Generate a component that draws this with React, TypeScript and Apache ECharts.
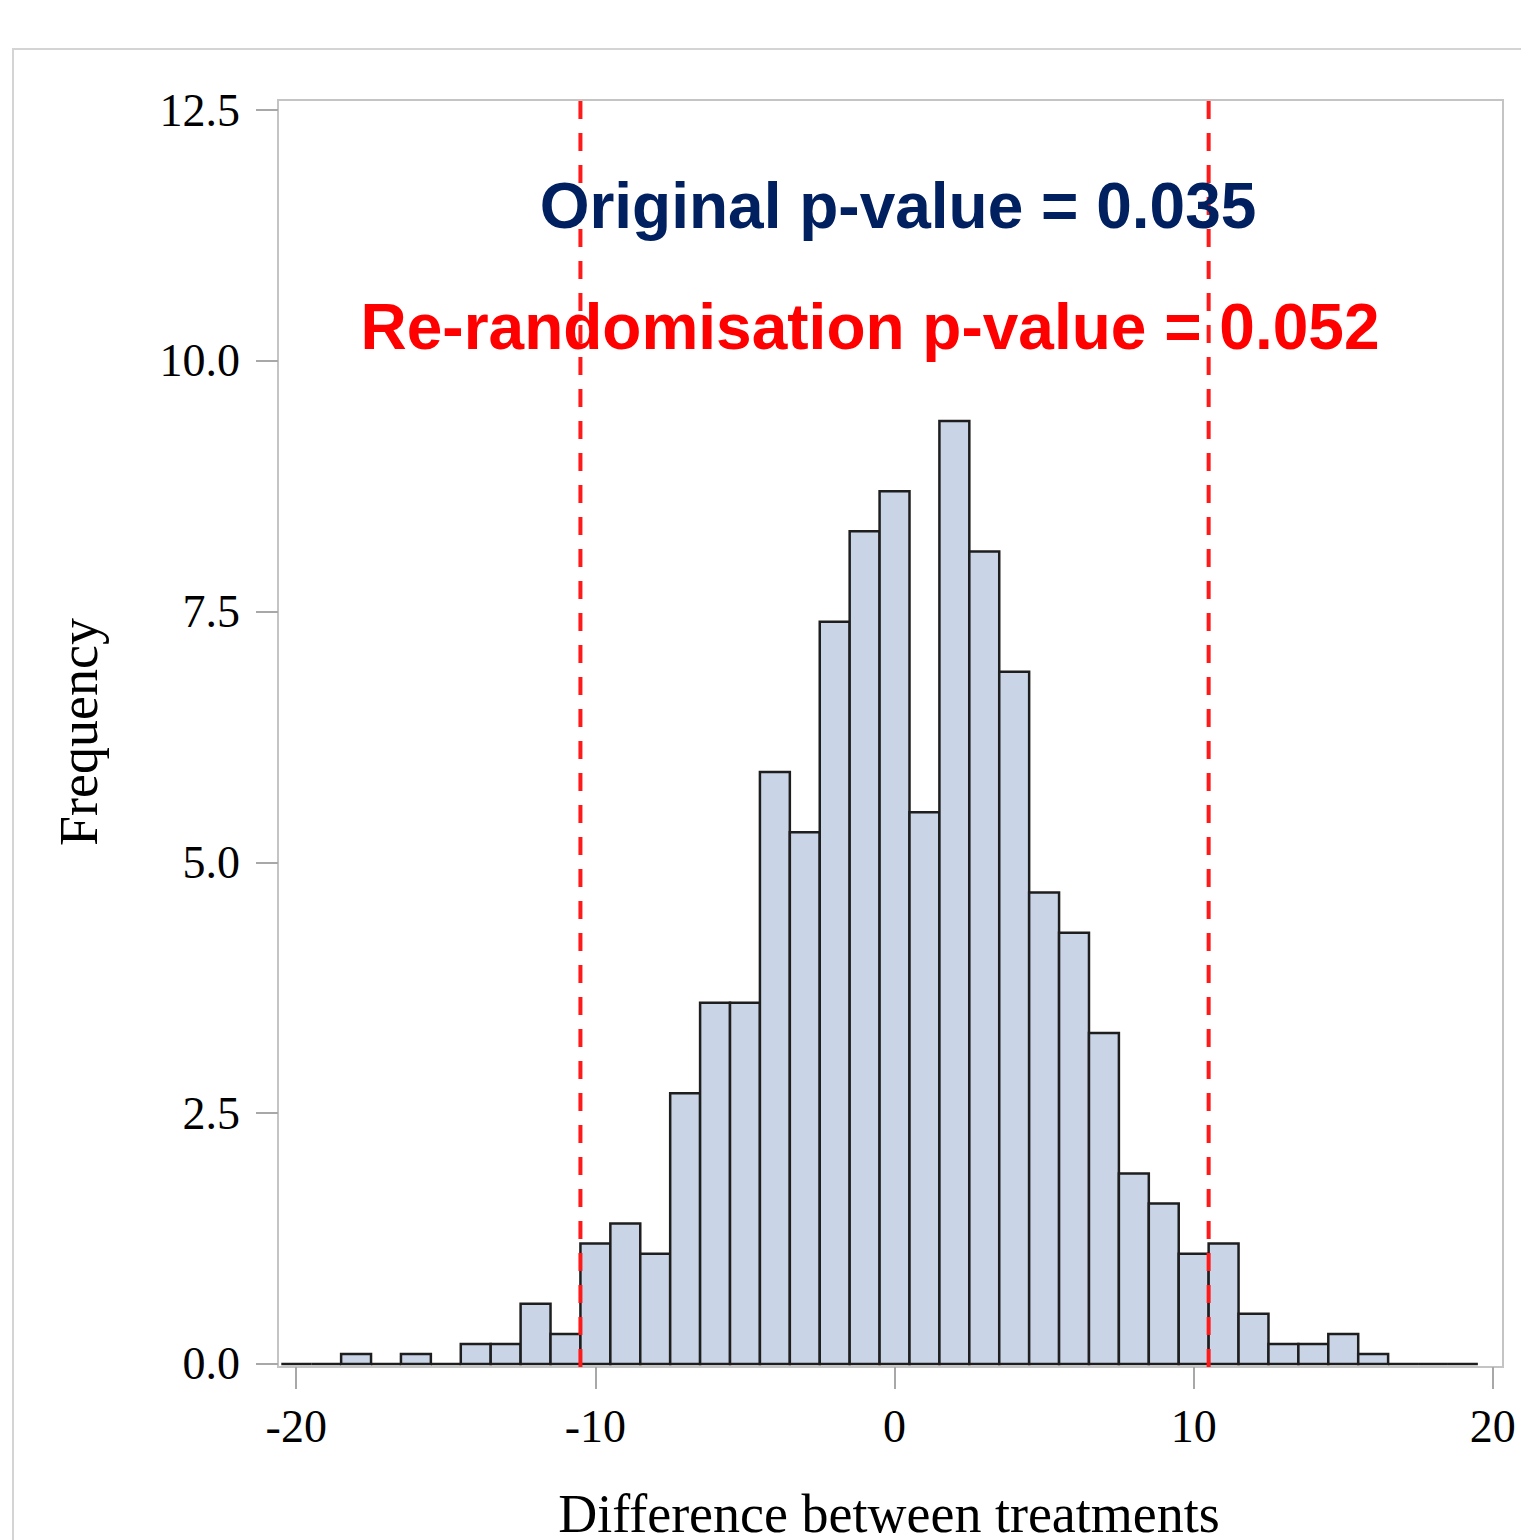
import React, { useEffect, useRef } from "react";
import * as echarts from "echarts";

const binCenters = [-20, -19, -18, -17, -16, -15, -14, -13, -12, -11, -10, -9, -8, -7, -6, -5, -4, -3, -2, -1, 0, 1, 2, 3, 4, 5, 6, 7, 8, 9, 10, 11, 12, 13, 14, 15, 16, 17, 18, 19];
const frequencies = [0, 0, 0.1, 0, 0.1, 0, 0.2, 0.2, 0.6, 0.3, 1.2, 1.4, 1.1, 2.7, 3.6, 3.6, 5.9, 5.3, 7.4, 8.3, 8.7, 5.5, 9.4, 8.1, 6.9, 4.7, 4.3, 3.3, 1.9, 1.6, 1.1, 1.2, 0.5, 0.2, 0.2, 0.3, 0.1, 0, 0, 0];
const binWidth = 1;
const xTicks = [-20, -10, 0, 10, 20];
const yTicks = [0, 2.5, 5, 7.5, 10, 12.5];
const cutoffs = [-10.5, 10.5];
const xTitle = "Difference between treatments";
const yTitle = "Frequency";
const originalText = "Original p-value = 0.035";
const rerandText = "Re-randomisation p-value = 0.052";

const serif = "'Times New Roman', 'Liberation Serif', serif";
const sans = "Arial, 'Liberation Sans', sans-serif";

export default function App() {
  const ref = useRef<HTMLDivElement>(null);
  useEffect(() => {
    if (!ref.current) return;
    const chart = echarts.init(ref.current, null, { renderer: "svg" });
    const yMin = -0.03;
    const yMax = 12.6;
    const barData = binCenters.map((c, i) => [c, frequencies[i]]);
    const option: any = {
      animation: false,
      backgroundColor: "#ffffff",
      grid: {
        left: 278,
        right: 18,
        top: 100,
        bottom: 173,
        show: true,
        borderColor: "#c4c4c4",
        borderWidth: 2,
        backgroundColor: "transparent",
      },
      xAxis: {
        type: "value",
        min: -20.61,
        max: 20.34,
        axisLine: { show: false, onZero: false },
        splitLine: { show: false },
        axisTick: {
          show: true,
          inside: false,
          length: 22,
          customValues: xTicks,
          lineStyle: { color: "#a8a8a8", width: 2 },
        },
        axisLabel: {
          customValues: xTicks,
          fontSize: 46,
          fontFamily: serif,
          color: "#000",
          margin: 36,
          formatter: (v: number) => String(v),
        },
      },
      yAxis: {
        type: "value",
        min: yMin,
        max: yMax,
        axisLine: { show: false, onZero: false },
        splitLine: { show: false },
        axisTick: {
          show: true,
          inside: false,
          length: 22,
          customValues: yTicks,
          lineStyle: { color: "#a8a8a8", width: 2 },
        },
        axisLabel: {
          customValues: yTicks,
          fontSize: 46,
          fontFamily: serif,
          color: "#000",
          margin: 38,
          formatter: (v: number) => v.toFixed(1),
        },
      },
      series: [
        {
          type: "custom",
          data: barData,
          encode: { x: 0, y: 1 },
          z: 2,
          renderItem: (params: any, api: any) => {
            const c = api.value(0);
            const v = api.value(1);
            const p0 = api.coord([c - binWidth / 2, 0]);
            const p1 = api.coord([c + binWidth / 2, v]);
            return {
              type: "rect",
              shape: { x: p0[0], y: p1[1], width: p1[0] - p0[0], height: p0[1] - p1[1] },
              style: { fill: "#c9d5e6", stroke: "#1e1e1e", lineWidth: 2.5 },
            };
          },
        },
        ...cutoffs.map((c) => ({
          type: "line",
          data: [
            [c, yMin],
            [c, yMax],
          ],
          symbol: "none",
          z: 5,
          silent: true,
          lineStyle: { color: "#ff1a1a", width: 4, type: [18, 14] },
        })),
      ],
      graphic: [
        {
          type: "polyline",
          shape: { points: [[13, 1540], [13, 49], [1521, 49]] },
          style: { stroke: "#d4d4d4", lineWidth: 2, fill: null },
          silent: true,
        },
        {
          type: "text",
          x: 79,
          y: 732,
          rotation: Math.PI / 2,
          style: {
            text: yTitle,
            font: `54px ${serif}`,
            fill: "#000",
            align: "center",
            verticalAlign: "middle",
          },
        },
        {
          type: "text",
          x: 889,
          y: 1514,
          style: {
            text: xTitle,
            font: `54px ${serif}`,
            fill: "#000",
            align: "center",
            verticalAlign: "middle",
          },
        },
        {
          type: "text",
          x: 898,
          y: 206,
          z: 10,
          style: {
            text: originalText,
            font: `bold 64px ${sans}`,
            fill: "#002060",
            align: "center",
            verticalAlign: "middle",
          },
        },
        {
          type: "text",
          x: 870,
          y: 327,
          z: 10,
          style: {
            text: rerandText,
            font: `bold 64px ${sans}`,
            fill: "#ff0000",
            align: "center",
            verticalAlign: "middle",
          },
        },
      ],
    };
    chart.setOption(option);
    return () => chart.dispose();
  }, []);
  return (
    <div
      ref={ref}
      style={{ position: "absolute", left: 0, top: 0, width: 1521, height: 1540 }}
    />
  );
}
